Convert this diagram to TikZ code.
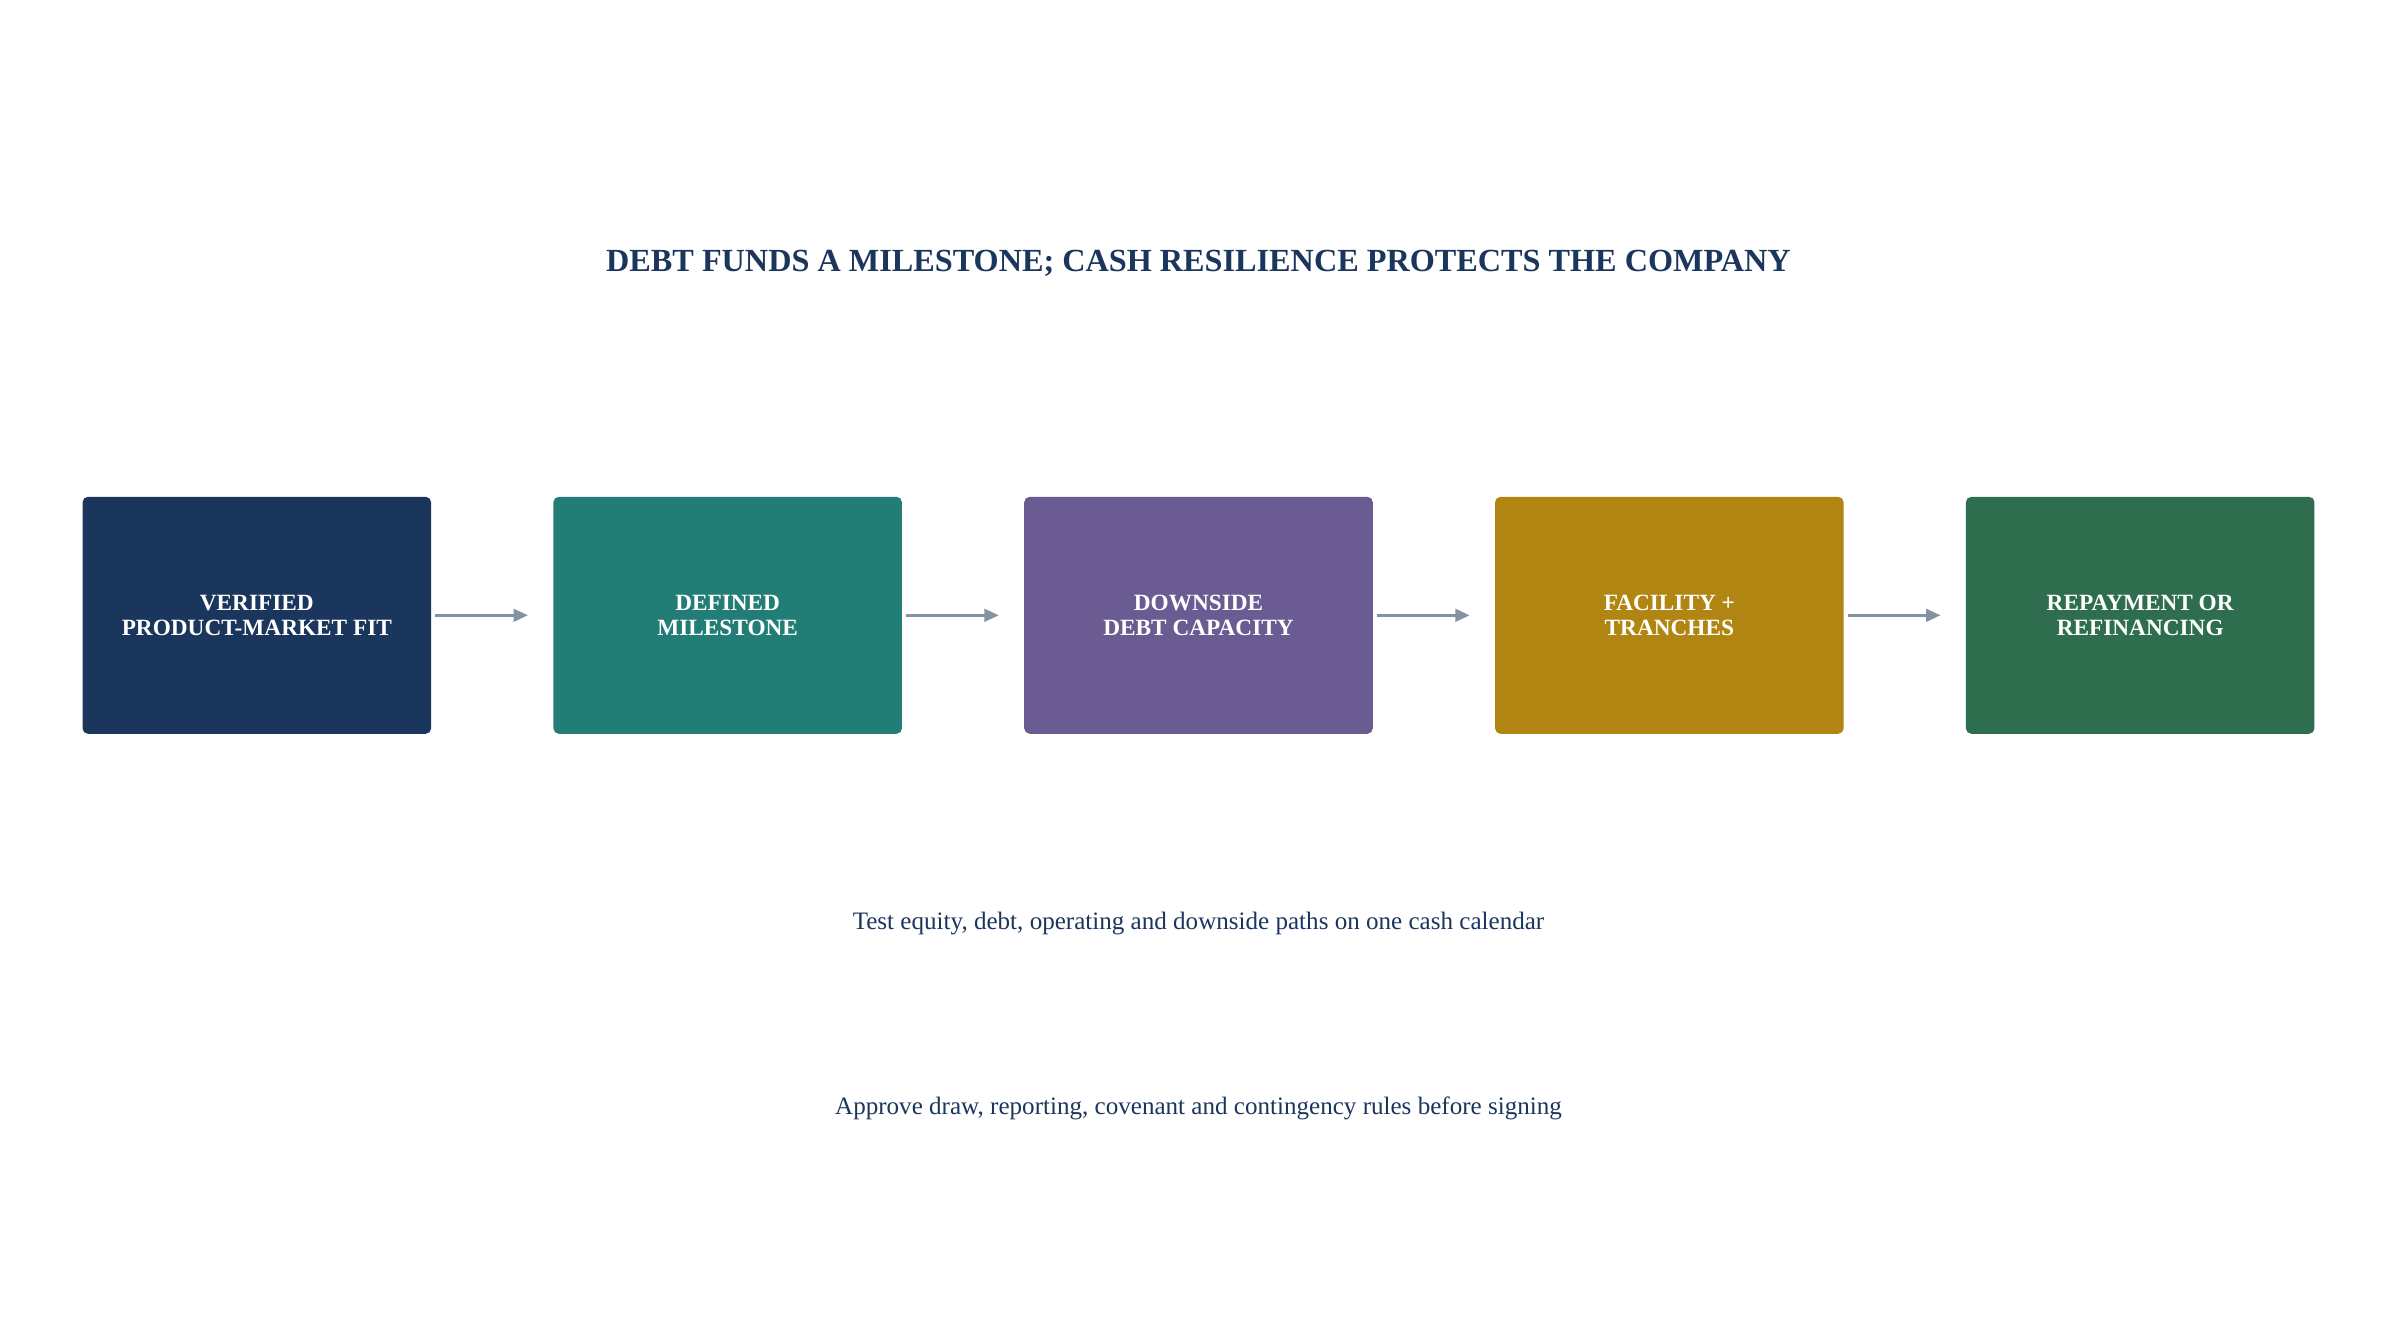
\documentclass[tikz,border=0pt]{standalone}
\usepackage{fontspec}
\setmainfont{Liberation Serif}
\usetikzlibrary{positioning,arrows.meta}
\definecolor{navy}{HTML}{1B365D}
\definecolor{tealc}{HTML}{237D77}
\definecolor{purp}{HTML}{6B5B93}
\definecolor{gold}{HTML}{B08512}
\definecolor{grn}{HTML}{2E6E4E}
\definecolor{arr}{HTML}{8592A2}
\tikzset{
  stage/.style={fill=#1, rounded corners=3pt, minimum width=6.84cm, minimum height=4.65cm,
    text=white, align=center, font=\fontsize{13pt}{14pt}\selectfont\bfseries},
  flow/.style={-{Triangle[length=8pt,width=7pt]}, line width=1.6pt, arr},
  note/.style={text=navy, font=\fontsize{14pt}{16pt}\selectfont}
}
\begin{document}
\begin{tikzpicture}[x=0.03cm,y=-0.03cm]
\useasboundingbox (0,0) rectangle (1568,878);

\node[text=navy, font=\fontsize{18pt}{20pt}\selectfont\bfseries] (title) at (784,172) {DEBT FUNDS A MILESTONE; CASH RESILIENCE PROTECTS THE COMPANY};

\node[stage=navy] (fit) at (168,402.5) {VERIFIED\\PRODUCT-MARKET FIT};
\node[stage=tealc] (mile) at (476,402.5) {DEFINED\\MILESTONE};
\node[stage=purp] (cap) at (784,402.5) {DOWNSIDE\\DEBT CAPACITY};
\node[stage=gold] (tranche) at (1092,402.5) {FACILITY +\\TRANCHES};
\node[stage=grn] (repay) at (1400,402.5) {REPAYMENT OR\\REFINANCING};

\draw[flow] ([xshift=2pt]fit.east) -- ([xshift=-14pt]mile.west);
\draw[flow] ([xshift=2pt]mile.east) -- ([xshift=-14pt]cap.west);
\draw[flow] ([xshift=2pt]cap.east) -- ([xshift=-14pt]tranche.west);
\draw[flow] ([xshift=2pt]tranche.east) -- ([xshift=-14pt]repay.west);

\node[note] (test) at (784,604) {Test equity, debt, operating and downside paths on one cash calendar};
\node[note] (approve) at (784,725) {Approve draw, reporting, covenant and contingency rules before signing};

\end{tikzpicture}
\end{document}
